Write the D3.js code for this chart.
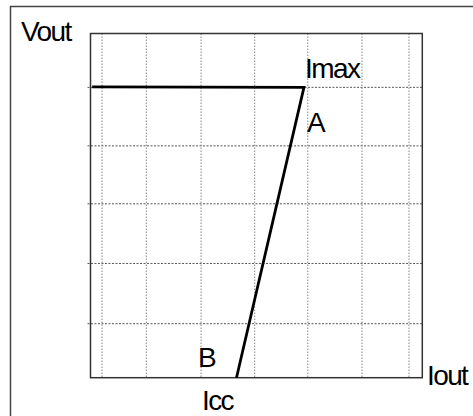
<!DOCTYPE html>
<html>
<head>
<meta charset="utf-8">
<script src="https://cdn.jsdelivr.net/npm/d3@7"></script>
<style>
  body { margin: 0; background: #fff; }
  text { font-family: "Liberation Sans", Arial, sans-serif; fill: #000; }
</style>
</head>
<body>
<svg id="drawing_region"></svg>
<script>
// grid positions (x and y in grid units)
const xTicks = [0.2, 1, 1.99, 2.96, 3.92, 4.9, 5.75];
const yTicks = [0.95, 2, 3.04, 4.05, 5.07];

// characteristic curve: flat at Vmax up to Imax, then falls to Icc
const curveX = [0.03, 3.86, 2.64];
const curveY = [5.07, 5.06, 0];

const labels = ['Vout', 'Imax', 'A', 'B', 'Icc', 'Iout'];

const config = {
    parent: '#drawing_region',
    width: 473,
    height: 416,
    plot: {left: 90.5, top: 33.5, right: 422.3, bottom: 377.7}
};

let svg = d3.select(config.parent)
    .attr('width', config.width)
    .attr('height', config.height);

const p = config.plot;
const inner_width = p.right - p.left;
const inner_height = p.bottom - p.top;

// outer frame (runs off the right and bottom edge)
svg.append('rect')
    .attr('x', 10.5).attr('y', 6.5)
    .attr('width', 480).attr('height', 430)
    .attr('fill', 'none')
    .attr('stroke', '#444')
    .attr('stroke-width', 1.5);

let xscale = d3.scaleLinear().domain([0, 6]).range([p.left, p.right]);
let yscale = d3.scaleLinear().domain([0, 6]).range([p.bottom, p.top]);

// horizontal grid, sticking out a little to the left
let ygrid = d3.axisLeft(yscale)
    .tickValues(yTicks)
    .tickSize(-(inner_width + 3))
    .tickFormat('');
svg.append('g')
    .attr('transform', `translate(${p.left - 3}, 0)`)
    .call(ygrid)
    .call(g => g.select('.domain').remove())
    .call(g => g.selectAll('line')
        .attr('stroke', '#555')
        .attr('stroke-dasharray', '2,1.5'));

// vertical grid
let xgrid = d3.axisTop(xscale)
    .tickValues(xTicks)
    .tickSize(-inner_height)
    .tickFormat('');
svg.append('g')
    .attr('transform', `translate(0, ${p.top})`)
    .call(xgrid)
    .call(g => g.select('.domain').remove())
    .call(g => g.selectAll('line')
        .attr('stroke', '#888')
        .attr('stroke-dasharray', '1.5,1.5'));

// plot border
svg.append('rect')
    .attr('x', p.left).attr('y', p.top)
    .attr('width', inner_width).attr('height', inner_height)
    .attr('fill', 'none')
    .attr('stroke', '#333')
    .attr('stroke-width', 1.5);

// the curve
const line = d3.line()
    .x((d, i) => xscale(curveX[i]))
    .y((d, i) => yscale(curveY[i]));
svg.append('path')
    .datum(curveX)
    .attr('d', line)
    .attr('fill', 'none')
    .attr('stroke', '#000')
    .attr('stroke-width', 2.8)
    .attr('stroke-linejoin', 'miter');

// labels
const labelPos = [
    [21, 41],
    [305, 78],
    [307, 132],
    [198, 367],
    [202, 410],
    [427, 385]
];
svg.selectAll('text.lbl')
    .data(labels)
    .enter()
    .append('text')
    .attr('class', 'lbl')
    .attr('x', (d, i) => labelPos[i][0])
    .attr('y', (d, i) => labelPos[i][1])
    .attr('font-size', 28)
    .attr('letter-spacing', -1.6)
    .text(d => d);
</script>
</body>
</html>
